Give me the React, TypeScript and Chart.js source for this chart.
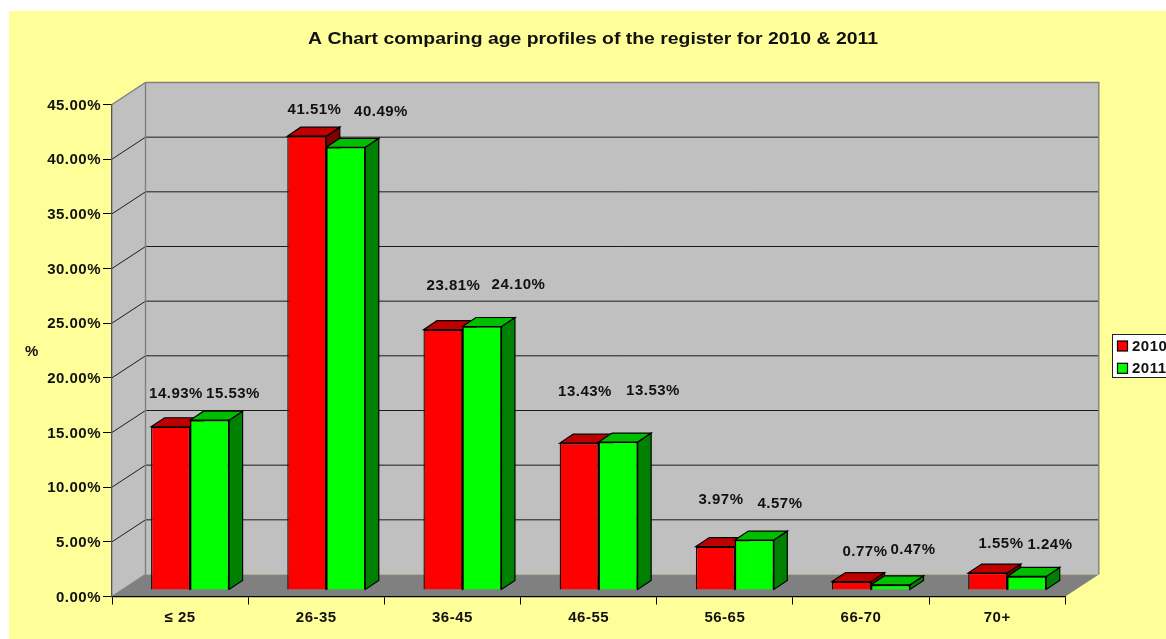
import React, { useEffect, useRef } from "react";
import { Chart, registerables } from "chart.js";

Chart.register(...registerables);

const categories = ["≤ 25", "26-35", "36-45", "46-55", "56-65", "66-70", "70+"];
const seriesNames = ["2010", "2011"];
const values2010 = [14.93, 41.51, 23.81, 13.43, 3.97, 0.77, 1.55];
const values2011 = [15.53, 40.49, 24.1, 13.53, 4.57, 0.47, 1.24];
const valueTicks = [0, 5, 10, 15, 20, 25, 30, 35, 40, 45];

const chartTitle = "A Chart comparing age profiles of the register for 2010 & 2011";
const axisTitle = "%";

// Hand-placed data label centres, as in the source spreadsheet chart
const labelPos2010 = [[176, 394], [314.5, 110], [453.5, 286], [585, 392], [721, 500], [865, 552], [1001, 544]];
const labelPos2011 = [[233, 394], [381, 112], [518.5, 285], [653, 391], [780, 504], [913, 550], [1050, 545]];

const FONT = "'Liberation Sans', Arial, sans-serif";
const fontSpec = (size: number) => `bold ${size}px ${FONT}`;
const TEXT = "#111111";
const TICK_SIZE = 15;
const TEXT_SPACING = "0.5px";
const TITLE_STRETCH = 1.175;

const WALL_DX = 33.5;
const WALL_DY = -22;
const BAR_DX = 10;
const BAR_DY = -6.5;
const BAR_DEPTH_X = 13.5;
const BAR_DEPTH_Y = -9;

const sideColors = ["#800000", "#008000"];
const topColors = ["#BF0000", "#00BF00"];

function poly(ctx: CanvasRenderingContext2D, pts: number[][], fill: string | null, stroke?: string, lw = 1) {
  ctx.beginPath();
  pts.forEach(([x, y], i) => (i ? ctx.lineTo(x, y) : ctx.moveTo(x, y)));
  ctx.closePath();
  if (fill) {
    ctx.fillStyle = fill;
    ctx.fill();
  }
  if (stroke) {
    ctx.strokeStyle = stroke;
    ctx.lineWidth = lw;
    ctx.stroke();
  }
}

const chart3d = {
  id: "chart3d",
  beforeDraw(chart: any) {
    const { ctx, width, height } = chart;
    // the reference's text is wider than the font's natural proportions
    ctx.letterSpacing = TEXT_SPACING;
    const block = chart.titleBlock;
    if (block && !block.__stretched) {
      const original = block.draw;
      block.__stretched = true;
      block.draw = function (...args: any[]) {
        const cx = (block.left + block.right) / 2;
        ctx.save();
        ctx.letterSpacing = "0px";
        ctx.translate(cx, 0);
        ctx.scale(TITLE_STRETCH, 1);
        ctx.translate(-cx, 0);
        original.apply(this, args);
        ctx.restore();
      };
    }
    const x = chart.scales.x;
    const y = chart.scales.y;
    const L = x.left;
    const R = x.right;
    const B = y.bottom;
    const T = y.top;
    ctx.save();
    // page background
    ctx.fillStyle = "#FFFFFF";
    ctx.fillRect(0, 0, width, height);
    ctx.fillStyle = "#FFFF99";
    ctx.fillRect(9, 11, width - 9, height - 11);

    const bl = L + WALL_DX;
    const br = R + WALL_DX;
    const bt = T + WALL_DY;
    const bb = B + WALL_DY;
    // back wall, side wall, floor
    poly(ctx, [[bl, bt], [br, bt], [br, bb], [bl, bb]], "#C0C0C0");
    poly(ctx, [[L, B], [bl, bb], [bl, bt], [L, T]], "#C0C0C0");
    poly(ctx, [[L, B], [R, B], [br, bb], [bl, bb]], "#808080");

    // gridlines
    ctx.strokeStyle = "#1A1A1A";
    ctx.lineWidth = 1;
    valueTicks.forEach((v) => {
      if (v === 0 || v === 45) return;
      const py = y.getPixelForValue(v);
      ctx.beginPath();
      ctx.moveTo(L, py);
      ctx.lineTo(bl, py + WALL_DY);
      ctx.lineTo(br, py + WALL_DY);
      ctx.stroke();
    });
    // wall edges
    ctx.strokeStyle = "#808080";
    ctx.lineWidth = 1.4;
    ctx.beginPath();
    ctx.moveTo(L, T);
    ctx.lineTo(bl, bt);
    ctx.lineTo(br, bt);
    ctx.lineTo(br, bb);
    ctx.moveTo(bl, bt);
    ctx.lineTo(bl, bb);
    ctx.moveTo(L, B);
    ctx.lineTo(bl, bb);
    ctx.stroke();
    ctx.restore();
  },
  beforeDatasetsDraw(chart: any) {
    const { ctx } = chart;
    ctx.save();
    ctx.translate(BAR_DX, BAR_DY);
    // left series first, so each bar's front hides the side of the bar before it
    [0, 1].forEach((i) => {
      const meta = chart.getDatasetMeta(i);
      meta.data.forEach((bar: any) => {
        const l = bar.x - bar.width / 2;
        const r = bar.x + bar.width / 2;
        const t = bar.y;
        const b = bar.base;
        poly(
          ctx,
          [[r, t], [r + BAR_DEPTH_X, t + BAR_DEPTH_Y], [r + BAR_DEPTH_X, b + BAR_DEPTH_Y], [r, b]],
          sideColors[i],
          "#000000",
          1.2
        );
        poly(
          ctx,
          [[l, t], [l + BAR_DEPTH_X, t + BAR_DEPTH_Y], [r + BAR_DEPTH_X, t + BAR_DEPTH_Y], [r, t]],
          topColors[i],
          "#000000",
          1.2
        );
      });
      meta.controller.draw();
    });
    ctx.restore();

    ctx.save();
    ctx.font = fontSpec(TICK_SIZE);
    ctx.fillStyle = TEXT;
    ctx.textAlign = "center";
    ctx.textBaseline = "middle";
    [values2010, values2011].forEach((vals, s) => {
      const pos = s === 0 ? labelPos2010 : labelPos2011;
      vals.forEach((v, i) => ctx.fillText(`${v.toFixed(2)}%`, pos[i][0], pos[i][1]));
    });
    ctx.fillText(axisTitle, 32, 352);

    // legend
    ctx.fillStyle = "#FFFFFF";
    ctx.fillRect(1112, 334, 60, 44);
    ctx.strokeStyle = "#222222";
    ctx.lineWidth = 1;
    ctx.strokeRect(1112.5, 334.5, 60, 43);
    ctx.textAlign = "left";
    seriesNames.forEach((name, i) => {
      const yTop = 341 + i * 22.3;
      ctx.fillStyle = chart.data.datasets[i].backgroundColor;
      ctx.fillRect(1117.5, yTop, 10, 10);
      ctx.strokeStyle = "#000000";
      ctx.lineWidth = 1.2;
      ctx.strokeRect(1117.5, yTop, 10, 10);
      ctx.fillStyle = TEXT;
      ctx.fillText(name, 1132, yTop + 5.5);
    });
    ctx.restore();
    return false;
  },
};

export default function App() {
  const ref = useRef<HTMLCanvasElement>(null);

  useEffect(() => {
    document.body.style.margin = "0";
    const chart = new Chart(ref.current as HTMLCanvasElement, {
      type: "bar",
      data: {
        labels: categories,
        datasets: [
          {
            label: seriesNames[0],
            data: values2010,
            backgroundColor: "#FF0000",
            borderColor: "#000000",
            borderWidth: 1.3,
          },
          {
            label: seriesNames[1],
            data: values2011,
            backgroundColor: "#00FF00",
            borderColor: "#000000",
            borderWidth: 1.3,
          },
        ],
      } as any,
      options: {
        responsive: false,
        animation: false,
        events: [],
        layout: { padding: { left: 20, right: 0, top: 0, bottom: 0 } },
        datasets: { bar: { barPercentage: 1, categoryPercentage: 0.5727 } },
        plugins: {
          legend: { display: false },
          tooltip: { enabled: false },
          title: {
            display: true,
            text: chartTitle,
            color: TEXT,
            font: { family: FONT, weight: "bold", size: 16.5, lineHeight: 1.2 },
            padding: { top: 30, bottom: 54.7 },
          },
        },
        scales: {
          x: {
            type: "category",
            position: "bottom",
            grid: { drawOnChartArea: false, offset: true, tickLength: 8, color: "#000000", tickColor: "#000000" },
            border: { display: true, color: "#000000", width: 1.3 },
            ticks: {
              color: TEXT,
              padding: 4,
              maxRotation: 0,
              font: { family: FONT, weight: "bold", size: TICK_SIZE },
            },
            afterFit(s: any) {
              s.height = 42.5;
            },
          },
          y: {
            type: "linear",
            position: "left",
            min: 0,
            max: 45,
            grid: { drawOnChartArea: false, tickLength: 9, color: "#000000", tickColor: "#000000" },
            border: { display: true, color: "#555555", width: 1.3 },
            afterBuildTicks(s: any) {
              s.ticks = valueTicks.map((value) => ({ value }));
            },
            ticks: {
              color: TEXT,
              padding: 2,
              labelOffset: 1,
              font: { family: FONT, weight: "bold", size: TICK_SIZE },
              callback: (v: any) => `${Number(v).toFixed(2)}%`,
            },
            afterFit(s: any) {
              s.width = 92;
            },
          },
          // empty scale that reserves the room for the right wall and the legend
          rightMargin: {
            type: "linear",
            position: "right",
            display: true,
            grid: { display: false },
            border: { display: false },
            ticks: { display: false },
            afterFit(s: any) {
              s.width = 100.7;
            },
          },
        },
      } as any,
      plugins: [chart3d],
    } as any);
    return () => chart.destroy();
  }, []);

  return <canvas ref={ref} width={1166} height={639} style={{ display: "block" }} />;
}
